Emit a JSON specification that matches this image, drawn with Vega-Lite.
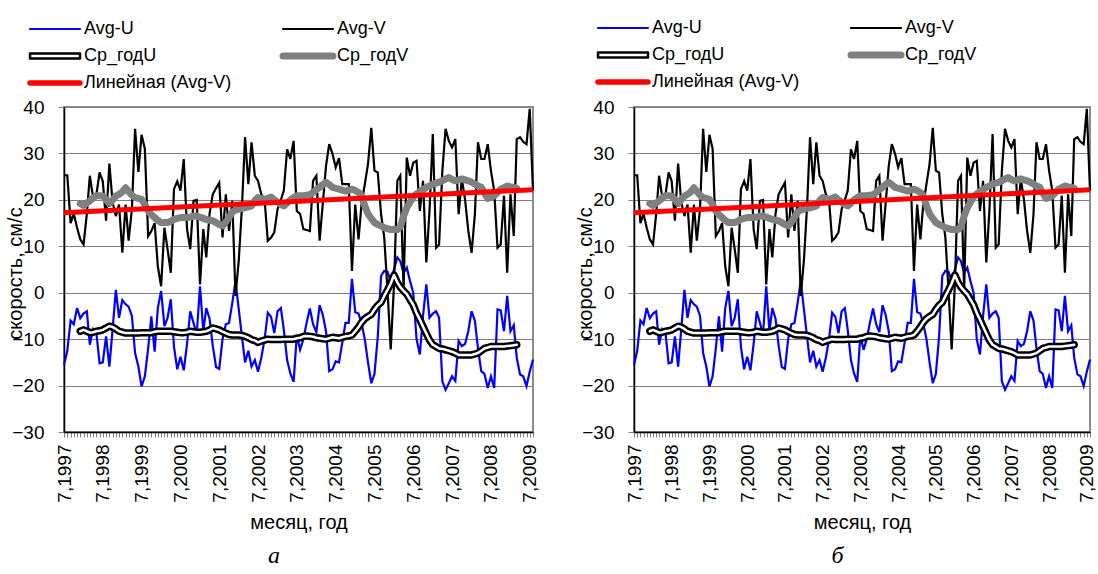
{
"$schema": "https://vega.github.io/schema/vega-lite/v6.json",
"padding": {"left": 4, "top": 18, "right": 0, "bottom": 0},
"background": "white",
"config": {"font": "Liberation Sans", "view": {"stroke": "#8c8c8c", "strokeWidth": 2}, "mark": {"invalid": "filter"}, "axis": {"labelColor": "#000", "titleColor": "#000", "titleFontWeight": "normal", "labelFont": "Liberation Sans", "titleFont": "Liberation Sans"}, "legend": {"labelFont": "Liberation Sans", "labelColor": "#000"}},
"data": {"values": [
{"d":"1997-07","Avg-U":-15.5,"Avg-V":25.3,"Линейная (Avg-V)":17.2},
{"d":"1997-08","Avg-U":-12.5,"Avg-V":25.3},
{"d":"1997-09","Avg-U":-6,"Avg-V":15},
{"d":"1997-10","Avg-U":-6.8,"Avg-V":17},
{"d":"1997-11","Avg-U":-3.3,"Avg-V":14},
{"d":"1997-12","Avg-U":-5.5,"Avg-V":11.5,"Ср_годU":-8.3,"Ср_годV":19.2},
{"d":"1998-01","Avg-U":-4.5,"Avg-V":10.4,"Ср_годU":-8,"Ср_годV":18.8},
{"d":"1998-02","Avg-U":-4,"Avg-V":17,"Ср_годU":-8.3,"Ср_годV":19.3},
{"d":"1998-03","Avg-U":-11.2,"Avg-V":25.2,"Ср_годU":-8.6,"Ср_годV":19.8},
{"d":"1998-04","Avg-U":-7.8,"Avg-V":20.5,"Ср_годU":-8.5,"Ср_годV":20.4},
{"d":"1998-05","Avg-U":-8.5,"Avg-V":21,"Ср_годU":-8.3,"Ср_годV":20.9},
{"d":"1998-06","Avg-U":-15.2,"Avg-V":25.9,"Ср_годU":-8.2,"Ср_годV":20.9},
{"d":"1998-07","Avg-U":-15,"Avg-V":24,"Ср_годU":-8,"Ср_годV":20.8},
{"d":"1998-08","Avg-U":-9.4,"Avg-V":15.5,"Ср_годU":-7.6,"Ср_годV":20},
{"d":"1998-09","Avg-U":-15.9,"Avg-V":27.8,"Ср_годU":-7.2,"Ср_годV":19.2},
{"d":"1998-10","Avg-U":-8,"Avg-V":19.5,"Ср_годU":-7.4,"Ср_годV":20},
{"d":"1998-11","Avg-U":0.6,"Avg-V":16.5,"Ср_годU":-7.8,"Ср_годV":20.8},
{"d":"1998-12","Avg-U":-5.4,"Avg-V":19,"Ср_годU":-8.3,"Ср_годV":21.2},
{"d":"1999-01","Avg-U":-1.6,"Avg-V":8.6,"Ср_годU":-8.5,"Ср_годV":21.7},
{"d":"1999-02","Avg-U":-2.5,"Avg-V":19,"Ср_годU":-8.7,"Ср_годV":22.6},
{"d":"1999-03","Avg-U":-3,"Avg-V":11.2,"Ср_годU":-8.7,"Ср_годV":21.8},
{"d":"1999-04","Avg-U":-5,"Avg-V":18,"Ср_годU":-8.7,"Ср_годV":21},
{"d":"1999-05","Avg-U":-13,"Avg-V":35.3,"Ср_годU":-8.7,"Ср_годV":20.5},
{"d":"1999-06","Avg-U":-15.9,"Avg-V":26,"Ср_годU":-8.7,"Ср_годV":20.3},
{"d":"1999-07","Avg-U":-20.2,"Avg-V":34,"Ср_годU":-8.6,"Ср_годV":20.1},
{"d":"1999-08","Avg-U":-18,"Avg-V":31,"Ср_годU":-8.6,"Ср_годV":19},
{"d":"1999-09","Avg-U":-12,"Avg-V":12.2,"Ср_годU":-8.6,"Ср_годV":17.6},
{"d":"1999-10","Avg-U":-5.1,"Avg-V":13.3,"Ср_годU":-8.6,"Ср_годV":16.8},
{"d":"1999-11","Avg-U":-12.7,"Avg-V":15,"Ср_годU":-8.4,"Ср_годV":16.2},
{"d":"1999-12","Avg-U":-3.3,"Avg-V":5.7,"Ср_годU":-8.3,"Ср_годV":15.6},
{"d":"2000-01","Avg-U":0.4,"Avg-V":1.4,"Ср_годU":-8.3,"Ср_годV":15.1},
{"d":"2000-02","Avg-U":-7.2,"Avg-V":14,"Ср_годU":-8.3,"Ср_годV":15.1},
{"d":"2000-03","Avg-U":-5.5,"Avg-V":9.5,"Ср_годU":-8.3,"Ср_годV":15.1},
{"d":"2000-04","Avg-U":-1.4,"Avg-V":4.3,"Ср_годU":-8.3,"Ср_годV":15.4},
{"d":"2000-05","Avg-U":-11.6,"Avg-V":22.3,"Ср_годU":-8.4,"Ср_годV":15.8},
{"d":"2000-06","Avg-U":-16.5,"Avg-V":24,"Ср_годU":-8.5,"Ср_годV":16},
{"d":"2000-07","Avg-U":-13.8,"Avg-V":22,"Ср_годU":-8.6,"Ср_годV":16.2},
{"d":"2000-08","Avg-U":-16.7,"Avg-V":28.8,"Ср_годU":-8.6,"Ср_годV":16.2},
{"d":"2000-09","Avg-U":-11,"Avg-V":13.7,"Ср_годU":-8.5,"Ср_годV":16.2},
{"d":"2000-10","Avg-U":-4,"Avg-V":9.4,"Ср_годU":-8.3,"Ср_годV":16.3},
{"d":"2000-11","Avg-U":-6.5,"Avg-V":19.8,"Ср_годU":-8.4,"Ср_годV":16.5},
{"d":"2000-12","Avg-U":-9,"Avg-V":20,"Ср_годU":-8.5,"Ср_годV":16.5},
{"d":"2001-01","Avg-U":1.4,"Avg-V":1.8,"Ср_годU":-8.5,"Ср_годV":16.3},
{"d":"2001-02","Avg-U":-8.3,"Avg-V":13.7,"Ср_годU":-8.4,"Ср_годV":16},
{"d":"2001-03","Avg-U":-3.3,"Avg-V":7.6,"Ср_годU":-8.3,"Ср_годV":15.8},
{"d":"2001-04","Avg-U":-5.6,"Avg-V":17,"Ср_годU":-8,"Ср_годV":15.6},
{"d":"2001-05","Avg-U":-11.4,"Avg-V":21.2,"Ср_годU":-7.6,"Ср_годV":15.5},
{"d":"2001-06","Avg-U":-16,"Avg-V":22.5,"Ср_годU":-7.8,"Ср_годV":15.1},
{"d":"2001-07","Avg-U":-16.4,"Avg-V":23.7,"Ср_годU":-8,"Ср_годV":14.7},
{"d":"2001-08","Avg-U":-10,"Avg-V":11.9,"Ср_годU":-8.4,"Ср_годV":14.4},
{"d":"2001-09","Avg-U":-6.8,"Avg-V":21.2,"Ср_годU":-8.7,"Ср_годV":15.2},
{"d":"2001-10","Avg-U":-6.5,"Avg-V":13.3,"Ср_годU":-9,"Ср_годV":16.2},
{"d":"2001-11","Avg-U":-2.2,"Avg-V":19.8,"Ср_годU":-9.1,"Ср_годV":17.4},
{"d":"2001-12","Avg-U":2.5,"Avg-V":-0.7,"Ср_годU":-9.1,"Ср_годV":17.8},
{"d":"2002-01","Avg-U":-3.6,"Avg-V":7,"Ср_годU":-9.1,"Ср_годV":18},
{"d":"2002-02","Avg-U":-9.7,"Avg-V":19,"Ср_годU":-9.2,"Ср_годV":18.2},
{"d":"2002-03","Avg-U":-15,"Avg-V":33.5,"Ср_годU":-9.4,"Ср_годV":18.3},
{"d":"2002-04","Avg-U":-12.5,"Avg-V":23.4,"Ср_годU":-9.7,"Ср_годV":18.5},
{"d":"2002-05","Avg-U":-15.9,"Avg-V":32.4,"Ср_годU":-10.1,"Ср_годV":18.7},
{"d":"2002-06","Avg-U":-14.5,"Avg-V":25.2,"Ср_годU":-10.3,"Ср_годV":19.8},
{"d":"2002-07","Avg-U":-17,"Avg-V":24.1,"Ср_годU":-10.7,"Ср_годV":20.5},
{"d":"2002-08","Avg-U":-14,"Avg-V":21.2,"Ср_годU":-10.4,"Ср_годV":20.3},
{"d":"2002-09","Avg-U":-10,"Avg-V":20,"Ср_годU":-10.2,"Ср_годV":20.1},
{"d":"2002-10","Avg-U":-4.3,"Avg-V":11.2,"Ср_годU":-10,"Ср_годV":20.3},
{"d":"2002-11","Avg-U":-5.2,"Avg-V":11.9,"Ср_годU":-10.1,"Ср_годV":20.6},
{"d":"2002-12","Avg-U":-8.7,"Avg-V":13,"Ср_годU":-10.1,"Ср_годV":20},
{"d":"2003-01","Avg-U":-4,"Avg-V":18,"Ср_годU":-10.1,"Ср_годV":19.5},
{"d":"2003-02","Avg-U":-3.3,"Avg-V":20,"Ср_годU":-10.1,"Ср_годV":19},
{"d":"2003-03","Avg-U":-8,"Avg-V":22,"Ср_годU":-10,"Ср_годV":18.7},
{"d":"2003-04","Avg-U":-14.5,"Avg-V":30.9,"Ср_годU":-10,"Ср_годV":19.3},
{"d":"2003-05","Avg-U":-17.4,"Avg-V":28.8,"Ср_годU":-10,"Ср_годV":20},
{"d":"2003-06","Avg-U":-19.2,"Avg-V":32.7,"Ср_годU":-10,"Ср_годV":20.5},
{"d":"2003-07","Avg-U":-9.1,"Avg-V":17.6,"Ср_годU":-9.8,"Ср_годV":20.9},
{"d":"2003-08","Avg-U":-12.3,"Avg-V":17,"Ср_годU":-9.7,"Ср_годV":20.9},
{"d":"2003-09","Avg-U":-10,"Avg-V":13.7,"Ср_годU":-9.4,"Ср_годV":20.9},
{"d":"2003-10","Avg-U":-6.5,"Avg-V":13.5,"Ср_годU":-9.3,"Ср_годV":21},
{"d":"2003-11","Avg-U":-3.4,"Avg-V":13.3,"Ср_годU":-9.4,"Ср_годV":21.1},
{"d":"2003-12","Avg-U":-6.8,"Avg-V":24.1,"Ср_годU":-9.5,"Ср_годV":21.6},
{"d":"2004-01","Avg-U":-8.5,"Avg-V":25.2,"Ср_годU":-9.7,"Ср_годV":22.2},
{"d":"2004-02","Avg-U":-2.7,"Avg-V":11.2,"Ср_годU":-9.8,"Ср_годV":22.7},
{"d":"2004-03","Avg-U":-4.7,"Avg-V":19,"Ср_годU":-9.9,"Ср_годV":23.3},
{"d":"2004-04","Avg-U":-8.3,"Avg-V":27.3,"Ср_годU":-10,"Ср_годV":23.8},
{"d":"2004-05","Avg-U":-16.9,"Avg-V":32,"Ср_годU":-9.8,"Ср_годV":23.3},
{"d":"2004-06","Avg-U":-16.5,"Avg-V":29.9,"Ср_годU":-9.6,"Ср_годV":22.7},
{"d":"2004-07","Avg-U":-14.8,"Avg-V":27,"Ср_годU":-9.7,"Ср_годV":22.5},
{"d":"2004-08","Avg-U":-15,"Avg-V":29,"Ср_годU":-9.8,"Ср_годV":22.3},
{"d":"2004-09","Avg-U":-10.8,"Avg-V":23.4,"Ср_годU":-9.6,"Ср_годV":22.1},
{"d":"2004-10","Avg-U":-6.5,"Avg-V":23.4,"Ср_годU":-9.4,"Ср_годV":21.9},
{"d":"2004-11","Avg-U":-6.5,"Avg-V":23.4,"Ср_годU":-9.3,"Ср_годV":22.1},
{"d":"2004-12","Avg-U":3,"Avg-V":4.7,"Ср_годU":-9.1,"Ср_годV":22.3},
{"d":"2005-01","Avg-U":-4.2,"Avg-V":19,"Ср_годU":-8.3,"Ср_годV":22},
{"d":"2005-02","Avg-U":-4.5,"Avg-V":11.5,"Ср_годU":-7.4,"Ср_годV":21.6},
{"d":"2005-03","Avg-U":-6.6,"Avg-V":19,"Ср_годU":-6.4,"Ср_годV":20.9},
{"d":"2005-04","Avg-U":-10,"Avg-V":23.4,"Ср_годU":-5.6,"Ср_годV":18.7},
{"d":"2005-05","Avg-U":-15,"Avg-V":27.7,"Ср_годU":-5.1,"Ср_годV":17},
{"d":"2005-06","Avg-U":-19.5,"Avg-V":35.5,"Ср_годU":-4.7,"Ср_годV":16},
{"d":"2005-07","Avg-U":-17.5,"Avg-V":26.3,"Ср_годU":-3.6,"Ср_годV":15.1},
{"d":"2005-08","Avg-U":-9.5,"Avg-V":25.9,"Ср_годU":-2.7,"Ср_годV":14.7},
{"d":"2005-09","Avg-U":3.6,"Avg-V":16.9,"Ср_годU":-2.1,"Ср_годV":14.4},
{"d":"2005-10","Avg-U":4.7,"Avg-V":11.9,"Ср_годU":-0.7,"Ср_годV":14},
{"d":"2005-11","Avg-U":4.5,"Avg-V":0.4,"Ср_годU":0.6,"Ср_годV":13.8},
{"d":"2005-12","Avg-U":2.5,"Avg-V":-12.2,"Ср_годU":2,"Ср_годV":13.6},
{"d":"2006-01","Avg-U":5,"Avg-V":1.8,"Ср_годU":3.8,"Ср_годV":13.6},
{"d":"2006-02","Avg-U":7.6,"Avg-V":24.1,"Ср_годU":2.2,"Ср_годV":13.6},
{"d":"2006-03","Avg-U":6.8,"Avg-V":25.2,"Ср_годU":1.2,"Ср_годV":14.2},
{"d":"2006-04","Avg-U":4.3,"Avg-V":0.4,"Ср_годU":0.4,"Ср_годV":16.5},
{"d":"2006-05","Avg-U":5.4,"Avg-V":29.1,"Ср_годU":-0.3,"Ср_годV":18.3},
{"d":"2006-06","Avg-U":2.5,"Avg-V":25.2,"Ср_годU":-1.5,"Ср_годV":19.5},
{"d":"2006-07","Avg-U":0,"Avg-V":28,"Ср_годU":-2.6,"Ср_годV":20.6},
{"d":"2006-08","Avg-U":-10,"Avg-V":28.4,"Ср_годU":-4.4,"Ср_годV":21.3},
{"d":"2006-09","Avg-U":-13.3,"Avg-V":17.6,"Ср_годU":-5.8,"Ср_годV":21.8},
{"d":"2006-10","Avg-U":-5,"Avg-V":24.1,"Ср_годU":-7.3,"Ср_годV":22.2},
{"d":"2006-11","Avg-U":1.8,"Avg-V":6.5,"Ср_годU":-8.8,"Ср_годV":22.7},
{"d":"2006-12","Avg-U":-5.4,"Avg-V":17.6,"Ср_годU":-10.2,"Ср_годV":23},
{"d":"2007-01","Avg-U":-4.5,"Avg-V":34.2,"Ср_годU":-11.2,"Ср_годV":23.4},
{"d":"2007-02","Avg-U":-4,"Avg-V":9.7,"Ср_годU":-11.6,"Ср_годV":23.6},
{"d":"2007-03","Avg-U":-5.4,"Avg-V":10.4,"Ср_годU":-12,"Ср_годV":23.8},
{"d":"2007-04","Avg-U":-19.1,"Avg-V":26.3,"Ср_годU":-12.1,"Ср_годV":24.1},
{"d":"2007-05","Avg-U":-20.9,"Avg-V":35.3,"Ср_годU":-12.3,"Ср_годV":24.5},
{"d":"2007-06","Avg-U":-19.5,"Avg-V":32.7,"Ср_годU":-12.5,"Ср_годV":24.8},
{"d":"2007-07","Avg-U":-18,"Avg-V":31.3,"Ср_годU":-12.7,"Ср_годV":24.4},
{"d":"2007-08","Avg-U":-19,"Avg-V":33.1,"Ср_годU":-13,"Ср_годV":24.1},
{"d":"2007-09","Avg-U":-10.4,"Avg-V":16.9,"Ср_годU":-13.4,"Ср_годV":24.3},
{"d":"2007-10","Avg-U":-11.5,"Avg-V":24.5,"Ср_годU":-13.4,"Ср_годV":24.5},
{"d":"2007-11","Avg-U":-11,"Avg-V":20,"Ср_годU":-13.4,"Ср_годV":24.3},
{"d":"2007-12","Avg-U":-8.3,"Avg-V":13.3,"Ср_годU":-13.4,"Ср_годV":24.1},
{"d":"2008-01","Avg-U":-4,"Avg-V":8.6,"Ср_годU":-13.4,"Ср_годV":23.8},
{"d":"2008-02","Avg-U":-6,"Avg-V":16.9,"Ср_годU":-13.2,"Ср_годV":23.4},
{"d":"2008-03","Avg-U":-12,"Avg-V":32.4,"Ср_годU":-13,"Ср_годV":23},
{"d":"2008-04","Avg-U":-16.9,"Avg-V":28.8,"Ср_годU":-12.5,"Ср_годV":22.7},
{"d":"2008-05","Avg-U":-17.5,"Avg-V":28.8,"Ср_годU":-12,"Ср_годV":21.5},
{"d":"2008-06","Avg-U":-20.5,"Avg-V":32,"Ср_годU":-11.8,"Ср_годV":20.3},
{"d":"2008-07","Avg-U":-18,"Avg-V":26.3,"Ср_годU":-11.6,"Ср_годV":20.5},
{"d":"2008-08","Avg-U":-20.5,"Avg-V":21.9,"Ср_годU":-11.6,"Ср_годV":20.9},
{"d":"2008-09","Avg-U":-3.6,"Avg-V":9.7,"Ср_годU":-11.6,"Ср_годV":21.6},
{"d":"2008-10","Avg-U":-3.8,"Avg-V":10.4,"Ср_годU":-11.6,"Ср_годV":22.3},
{"d":"2008-11","Avg-U":-8.3,"Avg-V":20.9,"Ср_годU":-11.6,"Ср_годV":22.6},
{"d":"2008-12","Avg-U":-0.7,"Avg-V":4.3,"Ср_годU":-11.5,"Ср_годV":23},
{"d":"2009-01","Avg-U":-8.3,"Avg-V":21.2,"Ср_годU":-11.4,"Ср_годV":22.8},
{"d":"2009-02","Avg-U":-7,"Avg-V":12.2,"Ср_годU":-11.3,"Ср_годV":22.7},
{"d":"2009-03","Avg-U":-14,"Avg-V":33.1,"Ср_годU":-11.2,"Ср_годV":22.5},
{"d":"2009-04","Avg-U":-17.6,"Avg-V":33.5},
{"d":"2009-05","Avg-U":-18,"Avg-V":32.5},
{"d":"2009-06","Avg-U":-20.1,"Avg-V":32},
{"d":"2009-07","Avg-U":-17,"Avg-V":39.6},
{"d":"2009-08","Avg-U":-14.4,"Avg-V":22,"Линейная (Avg-V)":22.2}
]},
"spacing": 30,
"resolve": {"scale": {"color": "independent"}, "legend": {"color": "independent"}},
"hconcat": [
{
"width": 469, "height": 325,
"title": {"text": "а", "orient": "bottom", "font": "Liberation Serif", "fontStyle": "italic", "fontWeight": "normal", "fontSize": 24, "color": "#000", "anchor": "middle", "frame": "bounds", "offset": 12},
"transform": [{"fold": ["Avg-U", "Avg-V", "Ср_годU", "Ср_годV", "Линейная (Avg-V)"], "as": ["series", "v"]}, {"filter": "isValid(datum.v)"}],
"encoding": {
"x": {"field": "d", "type": "temporal", "scale": {"type": "utc", "domain": [{"year": 1997, "month": 7, "date": 1, "utc": true}, {"year": 2009, "month": 8, "date": 1, "utc": true}]},
 "axis": {"title": "месяц, год", "tickCount": {"interval": "month", "step": 1}, "labelExpr": "utcmonth(datum.value) == 6 ? '7,' + utcyear(datum.value) : ''", "labelAngle": 270, "labelAlign": "right", "labelBaseline": "middle", "labelOverlap": false, "labelFlush": false, "grid": false, "tickColor": "#808080", "tickSize": 5, "labelPadding": 7, "domainColor": "#000", "domainWidth": 1.5, "labelFontSize": 19, "titleFontSize": 20, "titlePadding": 10}},
"y": {"field": "v", "type": "quantitative", "scale": {"domain": [-30, 40], "nice": false, "zero": false},
 "axis": {"title": "скорость, см/с", "values": [-30, -20, -10, 0, 10, 20, 30, 40], "grid": true, "gridColor": "#808080", "gridWidth": 1, "tickSize": 6, "tickColor": "#808080", "domainColor": "#000", "domainWidth": 1.5, "labelPadding": 14, "labelFontSize": 19, "titleFontSize": 20, "titleX": -49, "titleY": 166, "titleAngle": 270, "titleAlign": "center", "titleBaseline": "middle"}},
"color": {"field": "series", "type": "nominal",
 "scale": {"domain": ["Avg-U", "Avg-V", "Ср_годU", "Ср_годV", "Линейная (Avg-V)"], "range": ["#0000ff", "#000000", "#000000", "#808080", "#ff0000"]},
 "legend": {"orient": "none", "direction": "horizontal", "legendX": -18, "legendY": -87, "columns": 2, "title": null, "symbolType": "M-3.125,0H3.125", "symbolSize": 256, "symbolStrokeWidth": 2, "labelFontSize": 18, "labelOffset": 20, "columnPadding": 47, "rowPadding": 9, "padding": 0, "labelLimit": 400,
  "encode": {"symbols": {"update": {
   "shape": {"signal": "datum.value === 'Ср_годU' ? 'M-3.125,-0.3125H3.125V0.3125H-3.125Z' : 'M-3.125,0H3.125'"},
   "fill": {"value": "transparent"},
   "strokeWidth": {"signal": "datum.value === 'Ср_годV' ? 7 : datum.value === 'Линейная (Avg-V)' ? 5.5 : datum.value === 'Ср_годU' ? 2.5 : 2.2"},
   "strokeCap": {"value": "round"}, "strokeJoin": {"value": "round"}}}}}}
},
"layer": [
{"transform": [{"filter": "datum.series === 'Avg-U'"}], "mark": {"type": "line", "strokeWidth": 2.2}},
{"transform": [{"filter": "datum.series === 'Avg-V'"}], "mark": {"type": "line", "strokeWidth": 2.2}},
{"transform": [{"filter": "datum.series === 'Ср_годU'"}], "mark": {"type": "line", "strokeWidth": 7.5, "strokeJoin": "round", "strokeCap": "round"}},
{"transform": [{"filter": "datum.series === 'Ср_годU'"}], "mark": {"type": "line", "strokeWidth": 2.5, "strokeJoin": "round", "strokeCap": "round"}, "encoding": {"color": {"value": "#ffffff"}}},
{"transform": [{"filter": "datum.series === 'Ср_годV'"}], "mark": {"type": "line", "strokeWidth": 7, "strokeJoin": "round", "strokeCap": "round"}},
{"transform": [{"filter": "datum.series === 'Линейная (Avg-V)'"}], "mark": {"type": "line", "strokeWidth": 5}}
]
},
{
"width": 456, "height": 325,
"title": {"text": "б", "orient": "bottom", "font": "Liberation Serif", "fontStyle": "italic", "fontWeight": "normal", "fontSize": 24, "color": "#000", "anchor": "middle", "frame": "bounds", "offset": 12},
"transform": [{"fold": ["Avg-U", "Avg-V", "Ср_годU", "Ср_годV", "Линейная (Avg-V)"], "as": ["series", "v"]}, {"filter": "isValid(datum.v)"}],
"encoding": {
"x": {"field": "d", "type": "temporal", "scale": {"type": "utc", "domain": [{"year": 1997, "month": 7, "date": 1, "utc": true}, {"year": 2009, "month": 8, "date": 1, "utc": true}]},
 "axis": {"title": "месяц, год", "tickCount": {"interval": "month", "step": 1}, "labelExpr": "utcmonth(datum.value) == 6 ? '7,' + utcyear(datum.value) : ''", "labelAngle": 270, "labelAlign": "right", "labelBaseline": "middle", "labelOverlap": false, "labelFlush": false, "grid": false, "tickColor": "#808080", "tickSize": 5, "labelPadding": 7, "domainColor": "#000", "domainWidth": 1.5, "labelFontSize": 19, "titleFontSize": 20, "titlePadding": 10}},
"y": {"field": "v", "type": "quantitative", "scale": {"domain": [-30, 40], "nice": false, "zero": false},
 "axis": {"title": "скорость, см/с", "values": [-30, -20, -10, 0, 10, 20, 30, 40], "grid": true, "gridColor": "#808080", "gridWidth": 1, "tickSize": 6, "tickColor": "#808080", "domainColor": "#000", "domainWidth": 1.5, "labelPadding": 14, "labelFontSize": 19, "titleFontSize": 20, "titleX": -49, "titleY": 166, "titleAngle": 270, "titleAlign": "center", "titleBaseline": "middle"}},
"color": {"field": "series", "type": "nominal",
 "scale": {"domain": ["Avg-U", "Avg-V", "Ср_годU", "Ср_годV", "Линейная (Avg-V)"], "range": ["#0000ff", "#000000", "#000000", "#808080", "#ff0000"]},
 "legend": {"orient": "none", "direction": "horizontal", "legendX": -20, "legendY": -88, "columns": 2, "title": null, "symbolType": "M-3.125,0H3.125", "symbolSize": 256, "symbolStrokeWidth": 2, "labelFontSize": 18, "labelOffset": 20, "columnPadding": 47, "rowPadding": 9, "padding": 0, "labelLimit": 400,
  "encode": {"symbols": {"update": {
   "shape": {"signal": "datum.value === 'Ср_годU' ? 'M-3.125,-0.3125H3.125V0.3125H-3.125Z' : 'M-3.125,0H3.125'"},
   "fill": {"value": "transparent"},
   "strokeWidth": {"signal": "datum.value === 'Ср_годV' ? 7 : datum.value === 'Линейная (Avg-V)' ? 5.5 : datum.value === 'Ср_годU' ? 2.5 : 2.2"},
   "strokeCap": {"value": "round"}, "strokeJoin": {"value": "round"}}}}}}
},
"layer": [
{"transform": [{"filter": "datum.series === 'Avg-U'"}], "mark": {"type": "line", "strokeWidth": 2.2}},
{"transform": [{"filter": "datum.series === 'Avg-V'"}], "mark": {"type": "line", "strokeWidth": 2.2}},
{"transform": [{"filter": "datum.series === 'Ср_годU'"}], "mark": {"type": "line", "strokeWidth": 7.5, "strokeJoin": "round", "strokeCap": "round"}},
{"transform": [{"filter": "datum.series === 'Ср_годU'"}], "mark": {"type": "line", "strokeWidth": 2.5, "strokeJoin": "round", "strokeCap": "round"}, "encoding": {"color": {"value": "#ffffff"}}},
{"transform": [{"filter": "datum.series === 'Ср_годV'"}], "mark": {"type": "line", "strokeWidth": 7, "strokeJoin": "round", "strokeCap": "round"}},
{"transform": [{"filter": "datum.series === 'Линейная (Avg-V)'"}], "mark": {"type": "line", "strokeWidth": 5}}
]
}
]
}
